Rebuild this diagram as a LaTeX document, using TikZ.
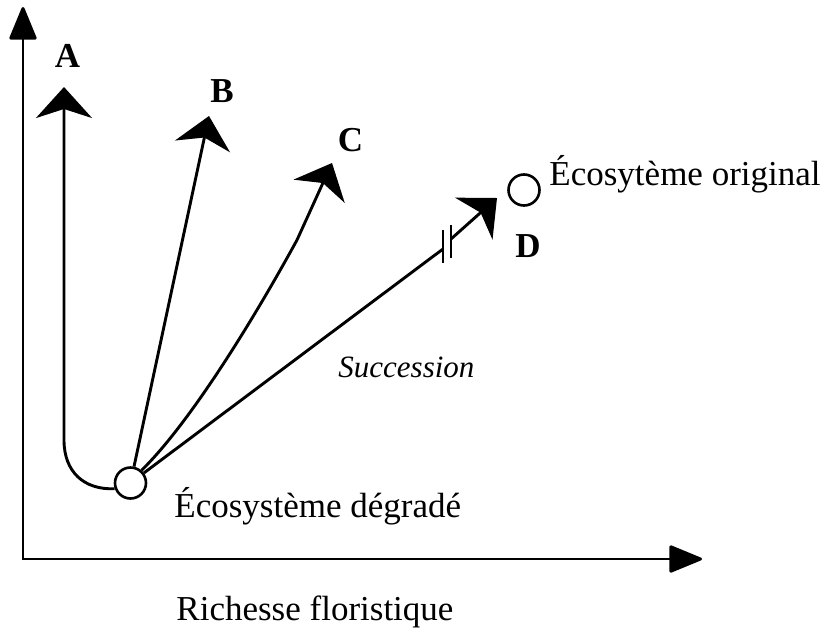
\documentclass[tikz,border=0pt]{standalone}
\usepackage{fontspec}
\setmainfont{Liberation Serif}
\usetikzlibrary{arrows.meta}
\begin{document}
\begin{tikzpicture}[x=1pt,y=-1pt,
  line width=2.9pt,
  axisline/.style={{Triangle[length=35pt,width=28pt,round]}-{Triangle[length=35pt,width=28pt,round]}},
  trajectory/.style={-{Stealth[length=31pt,width=56pt,inset=9pt]}},
  stateball/.style={circle,draw,fill=white,minimum size=31pt,inner sep=0pt,line width=2.6pt},
  caption/.style={inner sep=0pt,font=\fontsize{35}{40}\selectfont},
  letter/.style={inner sep=0pt,font=\fontsize{35}{40}\selectfont\bfseries}]
  \useasboundingbox (0,0) rectangle (822,627);

  % axes
  \coordinate (ytip) at (23,7);
  \coordinate (origin) at (23,559);
  \coordinate (xtip) at (702,559);
  \draw[axisline,line join=miter] (ytip) -- (origin) -- (xtip);

  % states
  \node[stateball] (deg) at (130.5,483) {};
  \node[stateball] (orig) at (524,190) {};

  % trajectory A
  \coordinate (abend) at (64,440);
  \coordinate (atip) at (64,87);
  \draw[trajectory] (deg.200) .. controls (84,490) and (64,472) .. (abend) -- (atip);

  % trajectory B
  \coordinate (btip) at (209,116);
  \draw[trajectory] (deg) -- (btip);

  % trajectory C
  \coordinate (ckink) at (297,240);
  \coordinate (ctip) at (332,163);
  \draw[trajectory] (deg.49) .. controls (185,428) and (245,335) .. (ckink) -- (ctip);

  % trajectory D, interrupted
  \coordinate (dbreak1) at (443,249);
  \coordinate (dbreak2) at (451,239);
  \coordinate (dtip) at (497,198);
  \draw (deg) -- (dbreak1);
  \draw[trajectory] (dbreak2) -- (dtip);
  \coordinate (m1a) at (443,230);
  \coordinate (m1b) at (443,263);
  \coordinate (m2a) at (451,225);
  \coordinate (m2b) at (451,258);
  \draw[line width=2.6pt] (m1a) -- (m1b);
  \draw[line width=2.6pt] (m2a) -- (m2b);

  % labels
  \node[letter,anchor=base] (la) at (67.5,67) {A};
  \node[letter,anchor=base] (lb) at (222,102) {B};
  \node[letter,anchor=base] (lc) at (350.5,151) {C};
  \node[letter,anchor=base] (ld) at (528,257) {D};
  \node[caption,anchor=base west] (torig) at (548,185) {Écosytème original};
  \node[caption,anchor=base west] (tdeg) at (173,517) {Écosystème dégradé};
  \node[caption,anchor=base west,font=\fontsize{31}{36}\selectfont\itshape] (tsucc) at (337,377) {Succession};
  \node[caption,anchor=base west] (taxis) at (175,620) {Richesse floristique};
\end{tikzpicture}
\end{document}
